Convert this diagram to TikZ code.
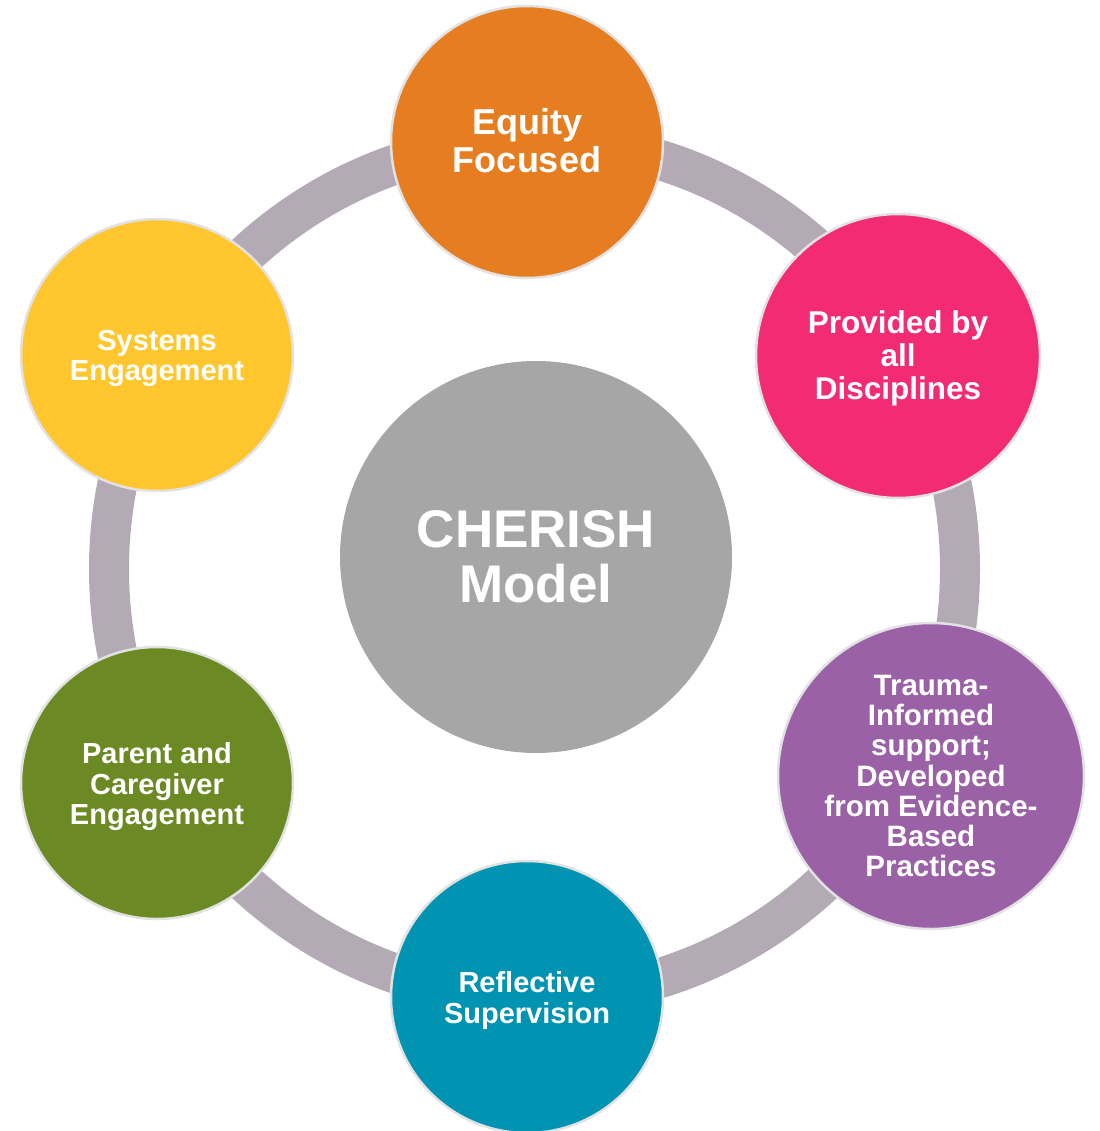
\documentclass[tikz,border=0pt]{standalone}
\usepackage{fontspec}
\setmainfont{Liberation Sans}
\definecolor{ringgray}{HTML}{B3AAB6}
\definecolor{rimgray}{HTML}{E2E2E2}
\definecolor{cEquity}{HTML}{E67E21}
\definecolor{cDisc}{HTML}{F32B73}
\definecolor{cTrauma}{HTML}{9B61A7}
\definecolor{cReflect}{HTML}{0093B2}
\definecolor{cParent}{HTML}{6B8A24}
\definecolor{cSystems}{HTML}{FFC62E}
\definecolor{cCore}{HTML}{A5A6A5}
\begin{document}
\begin{tikzpicture}[x=1pt,y=-1pt,
  pillar/.style={circle, fill=#1, draw=rimgray, line width=2.5pt,
    inner sep=0pt, minimum size=272pt},
  caption/.style={text=white, align=center, inner sep=0pt, yshift=-3pt,
    font=\bfseries\fontsize{29}{30.5}\selectfont},
  core/.style={circle, fill=cCore, draw=none, inner sep=0pt,
    minimum size=392pt, text=white, align=center,
    font=\bfseries\fontsize{53}{55}\selectfont}]
\useasboundingbox (0,0) rectangle (1099,1131);

% connecting ring behind the circles
\draw[ringgray, line width=40pt] (534.5,569) ellipse [x radius=425.5, y radius=428];

% centre
\node[core] (core) at (536,557) {CHERISH\\Model};

% surrounding principles: discs
\node[pillar=cEquity] (equity) at (527,142) {};
\node[pillar=cDisc, minimum size=284pt] (disc) at (898,356) {};
\node[pillar=cTrauma, minimum size=306pt] (trauma) at (931,776) {};
\node[pillar=cReflect] (reflect) at (527,997) {};
\node[pillar=cParent] (parent) at (157,783) {};
\node[pillar=cSystems] (systems) at (157,355) {};

% their captions
\node[caption, yshift=4pt, font=\bfseries\fontsize{36}{38}\selectfont] (equityT) at (equity.center) {Equity\\Focused};
\node[caption, yshift=1pt, font=\bfseries\fontsize{31.5}{33}\selectfont] (discT) at (disc.center) {Provided by\\all\\Disciplines};
\node[caption, yshift=3pt, font=\bfseries\fontsize{29.5}{30.3}\selectfont] (traumaT) at (trauma.center) {Trauma-\\Informed\\support;\\Developed\\from Evidence-\\Based\\Practices};
\node[caption, font=\bfseries\fontsize{29}{31}\selectfont] (reflectT) at (reflect.center) {Reflective\\Supervision};
\node[caption, yshift=-1pt] (parentT) at (parent.center) {Parent and\\Caregiver\\Engagement};
\node[caption, font=\bfseries\fontsize{29}{30}\selectfont] (systemsT) at (systems.center) {Systems\\Engagement};
\end{tikzpicture}
\end{document}
